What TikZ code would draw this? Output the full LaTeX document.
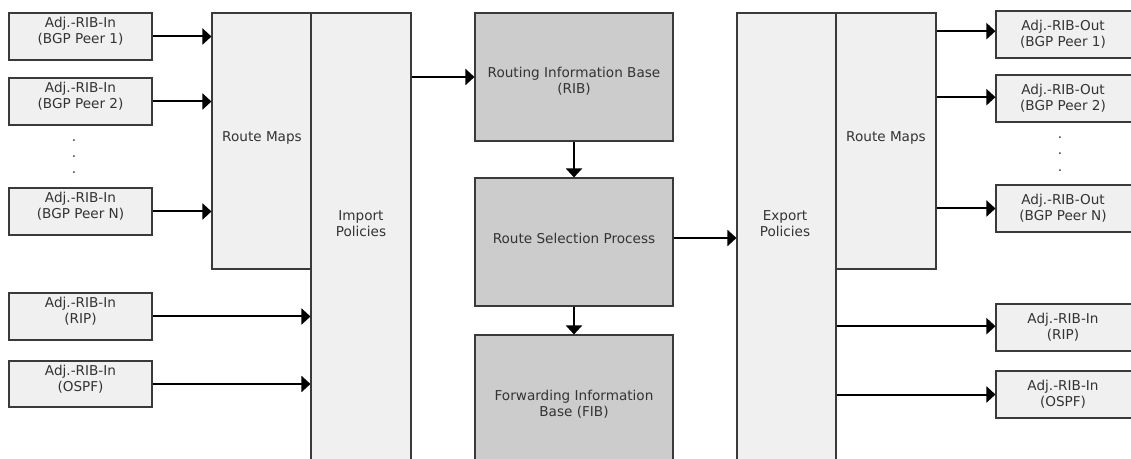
\documentclass[tikz,border=0pt]{standalone}
\usepackage{fontspec}
\setmainfont{DejaVu Sans}
\usetikzlibrary{arrows.meta,fit}
\definecolor{boxline}{HTML}{3A3A3A}
\definecolor{lightfill}{HTML}{F0F0F0}
\definecolor{corefill}{HTML}{CCCCCC}
\definecolor{txt}{HTML}{333333}
\tikzset{
  base/.style={draw=boxline, line width=0.8pt, inner sep=0pt, text=txt,
    align=center, font=\fontsize{10.2}{12}\selectfont},
  ribbox/.style={base, fill=lightfill},
  corebox/.style={base, fill=corefill},
  lbl/.style={text=txt, align=center, inner sep=0pt, font=\fontsize{10.2}{12}\selectfont},
  dot/.style={lbl, anchor=base},
  flow/.style={line width=1.5pt, -{Triangle[length=6.75pt,width=12pt]}},
}
\begin{document}
\begin{tikzpicture}[x=0.75pt, y=-0.75pt]
\clip (0,0) rectangle (1131,459);
\fill[white] (0,0) rectangle (1131,459);

% inbound adjacency tables
\node[ribbox, fit={(9,13) (152,60)}]   (in1)   {Adj.-RIB-In\\(BGP Peer 1)};
\node[ribbox, fit={(9,78) (152,125)}]  (in2)   {Adj.-RIB-In\\(BGP Peer 2)};
\node[ribbox, fit={(9,188) (152,235)}] (inN)   {Adj.-RIB-In\\(BGP Peer N)};
\node[ribbox, fit={(9,293) (152,340)}] (inrip) {Adj.-RIB-In\\(RIP)};
\node[ribbox, fit={(9,361) (152,407)}] (inospf){Adj.-RIB-In\\(OSPF)};
\node[dot] (indot1) at (74,142) {.};
\node[dot] (indot2) at (74,158) {.};
\node[dot] (indot3) at (74,174) {.};

% import side
\node[ribbox, fit={(311,13) (411,475)}] (imp) {};
\node[lbl] (imptxt) at (361,224) {Import\\Policies};
\node[ribbox, fit={(212,13) (311,269)}] (rmin) {};
\node[lbl] (rmintxt) at (262,138) {Route Maps};

% core tables
\node[corebox, fit={(475,13) (673,141)}]  (rib) {};
\node[lbl] (ribtxt) at (574,81) {Routing Information Base\\(RIB)};
\node[corebox, fit={(475,178) (673,306)}] (rsp) {};
\node[lbl] (rsptxt) at (574,238) {Route Selection Process};
\node[corebox, fit={(475,335) (673,475)}] (fib) {};
\node[lbl] (fibtxt) at (574,404) {Forwarding Information\\Base (FIB)};

% export side
\node[ribbox, fit={(737,13) (836,475)}] (exp) {};
\node[lbl] (exptxt) at (785,224) {Export\\Policies};
\node[ribbox, fit={(836,13) (936,269)}] (rmout) {};
\node[lbl] (rmouttxt) at (886,138) {Route Maps};

% outbound adjacency tables
\node[ribbox, fit={(996,11) (1140,58)}]   (out1)   {};
\node[lbl] at (1063,34.5) {Adj.-RIB-Out\\(BGP Peer 1)};
\node[ribbox, fit={(996,75) (1140,122)}]  (out2)   {};
\node[lbl] at (1063,98.5) {Adj.-RIB-Out\\(BGP Peer 2)};
\node[ribbox, fit={(996,185) (1140,232)}] (outN)   {};
\node[lbl] at (1063,208.5) {Adj.-RIB-Out\\(BGP Peer N)};
\node[ribbox, fit={(996,304) (1140,351)}] (outrip) {};
\node[lbl] at (1063,327.5) {Adj.-RIB-In\\(RIP)};
\node[ribbox, fit={(996,371) (1140,418)}] (outospf){};
\node[lbl] at (1063,394.5) {Adj.-RIB-In\\(OSPF)};
\node[dot] (outdot1) at (1060,139) {.};
\node[dot] (outdot2) at (1060,155) {.};
\node[dot] (outdot3) at (1060,172) {.};

% flows into the import stage
\draw[flow] (in1.east) -- (in1.east -| rmin.west);
\draw[flow] (in2.east) -- (in2.east -| rmin.west);
\draw[flow] (inN.east) -- (inN.east -| rmin.west);
\draw[flow] (inrip.east) -- (inrip.east -| imp.west);
\draw[flow] (inospf.east) -- (inospf.east -| imp.west);

% core pipeline
\draw[flow] (rib.west -| imp.east) -- (rib.west);
\draw[flow] (rib.south) -- (rsp.north);
\draw[flow] (rsp.south) -- (fib.north);
\draw[flow] ([yshift=3pt]rsp.east) -- ([yshift=3pt]rsp.east -| exp.west);

% flows out of the export stage
\draw[flow] ([yshift=2.5pt]out1.west -| rmout.east) -- ([yshift=2.5pt]out1.west);
\draw[flow] ([yshift=1pt]out2.west -| rmout.east) -- ([yshift=1pt]out2.west);
\draw[flow] (outN.west -| rmout.east) -- (outN.west);
\draw[flow] ([yshift=1pt]outrip.west -| exp.east) -- ([yshift=1pt]outrip.west);
\draw[flow] (outospf.west -| exp.east) -- (outospf.west);
\end{tikzpicture}
\end{document}
